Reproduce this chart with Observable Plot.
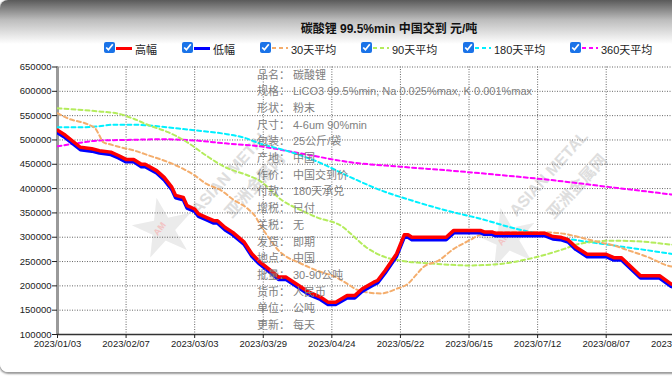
<!DOCTYPE html>
<html><head><meta charset="utf-8">
<script src="https://cdn.jsdelivr.net/npm/d3@7"></script>
<script src="https://cdn.jsdelivr.net/npm/@observablehq/plot@0.6"></script>
<style>
html,body{margin:0;padding:0;width:672px;height:377px;overflow:hidden;background:#fff;font-family:"Liberation Sans",Arial,"Noto Sans CJK SC",sans-serif;}
#frame{position:absolute;left:0;top:0;width:700px;height:372px;border-radius:8px;background:linear-gradient(#5a5a5a 0px,#bdbdbd 20px,#fff 44px);box-shadow:0 1px 2px 1px #9a9a9a;}
#title{position:absolute;top:19px;left:0;width:778px;text-align:center;font-weight:bold;font-size:12px;color:#111;}
.lg{position:absolute;top:42px;height:13px;font-size:11px;color:#222;white-space:nowrap;}
.lg input{position:absolute;left:0;top:0;width:11px;height:11px;margin:0;accent-color:#1a73e8;}
.lg .sw{position:absolute;left:12px;top:5px;width:16px;height:3px;}
.lg .tx{position:absolute;left:31px;top:-1px;}
#chart{position:absolute;left:0;top:56px;}
#note{position:absolute;left:257px;top:66.5px;font-size:11px;line-height:16.7px;color:#808080;white-space:nowrap;font-family:"Liberation Sans","Noto Sans CJK SC",sans-serif;}
#note .k{display:inline-block;width:36px;}
.wm{position:absolute;color:#d6d6d6;font-weight:bold;font-size:16px;white-space:nowrap;transform-origin:0 0;transform:rotate(-48deg);opacity:0.8;}
.star{position:absolute;color:#ebebeb;font-size:64px;line-height:64px;width:64px;text-align:center;transform:rotate(-12deg);}
.star span{position:absolute;left:22px;top:28px;font-size:9px;line-height:9px;color:#f2c4c4;font-weight:bold;transform:rotate(-40deg);}
</style></head>
<body>
<div id="frame"></div>
<div id="title">碳酸锂 99.5%min 中国交到 元/吨</div>
<div id="legend"></div>
<div class="star" style="left:131px;top:196px">★<span>AM</span></div>
<div class="wm" style="left:188px;top:206px">ASIAN METAL</div>
<div class="wm" style="left:218px;top:206px">亚洲金属网</div>
<div class="star" style="left:475px;top:206px">★<span>AM</span></div>
<div class="wm" style="left:506px;top:208px">ASIAN METAL</div>
<div class="wm" style="left:540px;top:207px">亚洲金属网</div>
<div id="chart"></div>
<div id="note"></div>
<script>
// ---- data ----
const tickIdx = [0, 18, 36, 54, 72, 90, 108, 126, 144, 162];
const tickLabels = ["2023/01/03","2023/02/07","2023/03/03","2023/03/29","2023/04/24","2023/05/22","2023/06/15","2023/07/12","2023/08/07","2023/08/31"];
const yTicks = [100000,150000,200000,250000,300000,350000,400000,450000,500000,550000,600000,650000];

const days = [0,2,6,9,11,14,16,18,20,22,23,26,28,30,31,33,34,36,37,39,41,42,44,46,49,51,53,57,58,60,62,66,69,71,73,76,78,80,83,84,86,89,91,92,93,102,104,111,112,114,115,128,130,132,134,136,139,144,146,148,153,158,161,163];
const high = [520000,510000,485000,482000,478000,475000,468000,460000,460000,450000,450000,437000,423000,403000,386000,382000,365000,358000,348000,341000,334000,334000,320000,310000,290000,266000,250000,225000,218000,218000,207500,187000,177000,166500,166500,180000,180000,194000,207500,211000,231500,266000,305000,305000,300000,300000,314000,314000,311000,311000,308000,308000,301500,300000,295000,280000,265000,265000,258000,258000,221000,221000,204000,200000];
const low  = [515000,505000,480000,477000,473000,470000,463000,455000,455000,445000,445000,432000,418000,398000,381000,377000,360000,353000,343000,336000,329000,329000,315000,305000,285000,261000,245000,220000,213000,213000,202500,182000,172000,161500,161500,175000,175000,189000,202500,206000,226500,261000,300000,300000,295000,295000,309000,309000,306000,306000,303000,303000,296500,295000,290000,275000,260000,260000,253000,253000,216000,216000,199000,195000];

const ma30Days = [0,3,8,10,11,12,14,17,20,24,29,33,36,39,43,46,50,52,53,56,58,59,64,68,73,76,79,81,83,85,89,92,94,96,100,104,108,111,114,128,133,137,142,146,150,155,160,163];
const ma30 = [555000,543500,532000,523000,509000,495500,490500,484000,478500,468000,454500,440500,427000,410000,396000,378000,358000,342000,328000,293000,273000,266000,245500,231500,218000,204500,190500,187000,185000,184500,194000,204500,221500,238500,252000,276000,293000,305500,310000,310000,307000,300000,290000,283000,272500,259000,242000,238000];

const ma90Days = [0,5,11,16,20,24,29,34,39,44,50,53,59,64,68,75,77,81,86,90,99,108,116,124,133,137,146,155,161,163];
const ma90 = [565000,562500,558500,554000,543500,530000,516000,495500,468000,444000,427000,416500,375500,355000,341000,320500,307000,279500,259000,252000,245500,242000,245000,256000,276000,286500,293000,290000,285000,284000];

const ma180Days = [0,5,10,15,20,24,29,34,39,44,49,53,60,68,77,85,93,102,111,120,129,137,146,155,161,163];
const ma180 = [526000,526000,527500,531500,531500,529500,526000,521500,517500,512500,504500,493000,478000,456000,423000,396000,375500,355000,338000,318000,303500,293000,283000,273000,266000,264000];

const ma360Days = [0,5,11,18,27,36,44,53,64,77,90,103,116,129,145,161,163];
const ma360 = [487000,493000,499000,500000,501500,499000,493000,487000,472000,454000,445000,437000,428000,418000,403000,388000,386000];

const legendNames = ["高幅","低幅","30天平均","90天平均","180天平均","360天平均"];
const legendColors = ["#ff0000","#0000ff","#f4ad6c","#b4ec5c","#00f0ff","#ff00ff"];
const legendLeft = [104,182,260,361,463,570];

const noteKeys = ["品名：","规格：","形状：","尺寸：","包装：","产地：","作价：","付款：","增税：","关税：","发货：","地点：","批量：","货币：","单位：","更新："];
const noteVals = ["碳酸锂","LiCO3 99.5%min, Na 0.025%max, K 0.001%max","粉末","4-6um 90%min","25公斤/袋","中国","中国交到价","180天承兑","已付","无","即期","中国","30-90公吨","人民币","公吨","每天"];

// ---- legend ----
const lg = document.getElementById("legend");
legendNames.forEach((n, i) => {
  const d = document.createElement("div");
  d.className = "lg";
  d.style.left = legendLeft[i] + "px";
  const c = legendColors[i];
  const sw = i < 2 ? `background:${c}` : `background:repeating-linear-gradient(90deg, ${c} 0 4px, transparent 4px 7px);height:2px;top:5px`;
  d.innerHTML = `<input type="checkbox" checked><span class="sw" style="${sw}"></span><span class="tx">${n}</span>`;
  lg.appendChild(d);
});

// ---- note ----
document.getElementById("note").innerHTML = noteKeys.map((k, i) => `<div><span class="k">${k}</span>${noteVals[i]}</div>`).join("");

// ---- chart ----
const rows = (d, v) => d.map((x, i) => ({x, y: v[i]}));
const avgs = [
  [ma360Days, ma360, legendColors[5]],
  [ma180Days, ma180, legendColors[4]],
  [ma90Days, ma90, legendColors[3]],
  [ma30Days, ma30, legendColors[2]]
];
const chart = Plot.plot({
  width: 672, height: 321,
  marginLeft: 57, marginRight: 0, marginTop: 10.5, marginBottom: 43,
  style: {background: "transparent", fontFamily: '"Liberation Sans", Arial, sans-serif', fontSize: "9.5px", color: "#222", overflow: "visible"},
  x: {domain: [0, 161.4]},
  y: {domain: [100000, 650000]},
  marks: [
    Plot.gridY(yTicks, {stroke: "#555", strokeOpacity: 0.9, strokeDasharray: "1,1.5"}),
    Plot.gridX(tickIdx, {stroke: "#555", strokeOpacity: 0.9, strokeDasharray: "1,1.5"}),
    Plot.ruleX([0], {stroke: "#9a9a9a", strokeWidth: 3}),
    Plot.ruleY([100000], {stroke: "#333", strokeWidth: 1.5}),
    Plot.axisY(yTicks, {tickFormat: d => String(d), tickSize: 5, tickPadding: 1, label: null}),
    Plot.axisX(tickIdx, {tickFormat: d => tickLabels[tickIdx.indexOf(d)], tickSize: 4, tickPadding: 2, label: null}),
    ...avgs.map(([d, v, c]) => Plot.line(rows(d, v), {x: "x", y: "y", stroke: c, strokeWidth: 2, strokeDasharray: "4,3", curve: "monotone-x", clip: true})),
    Plot.line(rows(days, low), {x: "x", y: "y", stroke: legendColors[1], strokeWidth: 3.5, clip: true}),
    Plot.line(rows(days, high), {x: "x", y: "y", stroke: legendColors[0], strokeWidth: 3.5, clip: true})
  ]
});
document.getElementById("chart").appendChild(chart);
</script>
</body></html>
